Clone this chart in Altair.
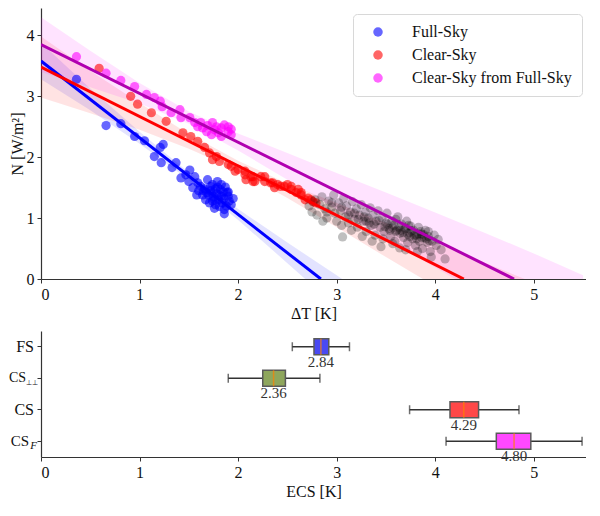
import altair as alt
import pandas as pd

FONT = "Liberation Serif"

# ---------------- top panel data ----------------
fs_dT = [0.36, 0.66, 0.81, 0.95, 1.05, 1.15, 1.21, 1.24, 1.22, 1.33, 1.37, 1.42, 1.47, 1.51, 1.50,
         1.56, 1.54, 1.59, 1.58, 1.62, 1.69, 1.66, 1.73, 1.71, 1.76, 1.79, 1.85, 1.83, 1.87, 1.90,
         1.91, 1.93, 1.86, 1.81, 1.76, 1.86, 1.77, 1.74, 1.67, 1.64, 1.79, 1.90, 1.95, 1.72, 1.78,
         1.82, 1.75, 1.80, 1.84, 1.88, 1.68, 1.70, 1.74, 1.77, 1.81, 1.83, 1.86, 1.72, 1.65, 1.60,
         1.89]
fs_N = [3.28, 2.52, 2.55, 2.34, 2.27, 2.01, 2.16, 2.21, 1.91, 1.83, 1.91, 1.66, 1.71, 1.79, 1.60,
        1.68, 1.50, 1.58, 1.38, 1.52, 1.63, 1.48, 1.41, 1.25, 1.30, 1.51, 1.43, 1.36, 1.51, 1.36,
        1.28, 1.22, 1.14, 1.19, 1.16, 1.07, 1.48, 1.55, 1.30, 1.38, 1.60, 1.43, 1.32, 1.45, 1.40,
        1.47, 1.35, 1.30, 1.25, 1.20, 1.42, 1.38, 1.28, 1.22, 1.38, 1.55, 1.32, 1.52, 1.45, 1.45,
        1.42]

cs_dT = [0.59, 0.91, 0.98, 1.12, 1.27, 1.44, 1.52, 1.59, 1.66, 1.71, 1.74, 1.78, 1.81, 1.90, 1.93,
         1.97, 2.00, 2.07, 2.08, 2.13, 2.15, 2.17, 2.23, 2.27, 2.33, 2.35, 2.37, 2.40, 2.43, 2.47,
         2.50, 2.54, 2.59, 2.61, 2.64, 2.68, 2.71, 2.74, 2.76, 2.79, 2.07, 2.15, 2.27, 2.54, 2.64]
cs_N = [3.46, 3.00, 2.87, 2.73, 2.59, 2.40, 2.34, 2.26, 2.16, 2.07, 1.96, 2.01, 1.93, 1.88, 1.85,
        1.77, 1.80, 1.71, 1.63, 1.68, 1.60, 1.60, 1.68, 1.60, 1.58, 1.58, 1.50, 1.55, 1.52, 1.52,
        1.55, 1.47, 1.42, 1.47, 1.38, 1.30, 1.33, 1.30, 1.27, 1.25, 1.77, 1.68, 1.68, 1.52, 1.42]

csf_dT = [0.36, 0.66, 0.81, 0.95, 1.07, 1.15, 1.21, 1.23, 1.32, 1.41, 1.42, 1.51, 1.56, 1.59, 1.64,
          1.69, 1.74, 1.76, 1.80, 1.83, 1.86, 1.90, 1.93, 1.83, 1.73, 1.68, 1.62, 1.90, 1.93, 1.78]
csf_N = [3.65, 3.38, 3.26, 3.16, 3.03, 2.98, 2.92, 2.83, 2.73, 2.78, 2.65, 2.65, 2.57, 2.50, 2.48,
         2.52, 2.57, 2.45, 2.40, 2.48, 2.53, 2.42, 2.37, 2.34, 2.37, 2.42, 2.57, 2.50, 2.46, 2.50]

bk_dT = [2.72, 2.75, 2.78, 2.80, 2.83, 2.85, 2.88, 2.90, 2.92, 2.95,
         2.97, 2.98, 3.00, 3.02, 3.04, 3.06, 3.07, 3.09, 3.10, 3.12,
         3.14, 3.16, 3.18, 3.20, 3.21, 3.23, 3.25, 3.27, 3.29, 3.30,
         3.32, 3.34, 3.35, 3.37, 3.39, 3.40, 3.42, 3.44, 3.45, 3.46,
         3.48, 3.50, 3.51, 3.53, 3.55, 3.56, 3.58, 3.59, 3.61, 3.62,
         3.64, 3.64, 3.66, 3.68, 3.69, 3.71, 3.72, 3.74, 3.75, 3.77,
         3.78, 3.80, 3.81, 3.83, 3.84, 3.86, 3.87, 3.89, 3.90, 3.92,
         3.93, 3.95, 3.96, 3.97, 3.99, 4.01, 4.03, 4.06, 4.10, 3.15,
         3.26, 3.36, 3.47, 3.57, 3.70, 3.82, 2.86, 3.05, 3.60, 3.73,
         3.85, 3.93, 3.30, 3.38, 3.43, 3.49, 3.52, 3.54, 3.57, 3.60,
         3.63, 3.65, 3.67, 3.70, 3.72, 3.74, 3.76, 3.79, 3.81, 3.83,
         3.86, 3.88, 3.91, 3.94, 3.12, 3.18, 3.22, 3.28, 3.33, 3.05,
         2.95, 2.90]
bk_N = [1.20, 1.10, 1.30, 1.05, 1.22, 1.35, 1.15, 1.00, 1.28, 1.18,
        1.38, 1.08, 0.95, 1.25, 1.12, 0.69, 1.32, 1.02, 1.20, 0.92,
        1.10, 1.27, 0.98, 1.15, 0.85, 1.05, 1.22, 0.95, 1.10, 0.78,
        1.00, 1.17, 0.88, 1.05, 0.72, 0.95, 1.12, 0.85, 0.53, 1.00,
        0.78, 0.92, 1.08, 0.83, 0.70, 0.95, 0.88, 0.62, 0.80, 1.02,
        0.51, 0.75, 0.90, 0.68, 0.82, 0.95, 0.60, 0.76, 0.87, 0.66,
        0.80, 0.55, 0.72, 0.85, 0.62, 0.74, 0.50, 0.68, 0.80, 0.60,
        0.70, 0.45, 0.36, 0.62, 0.72, 0.55, 0.65, 0.48, 0.33, 0.80,
        0.70, 0.62, 0.66, 0.58, 0.48, 0.45, 0.95, 0.88, 0.98, 0.88,
        0.78, 0.78, 0.95, 0.90, 0.96, 0.86, 0.90, 0.80, 0.84, 0.78,
        0.85, 0.80, 0.76, 0.83, 0.74, 0.70, 0.79, 0.72, 0.66, 0.74,
        0.68, 0.73, 0.66, 0.63, 1.05, 1.08, 0.98, 1.02, 0.92, 1.18,
        1.25, 1.10]

series_names = ["Full-Sky", "Clear-Sky", "Clear-Sky from Full-Sky"]
series_colors = ["#0000ff", "#ff0000", "#ff00ff"]
fit_colors = ["#0000ff", "#ff0000", "#b000b0"]
fit_intercept = [3.58, 3.48, 3.85]
fit_zero = [2.84, 4.29, 4.80]

band_x_fs = [0.0, 0.5, 1.0, 1.5, 2.0, 2.5, 3.0, 3.5]
band_lo_fs = [3.28, 2.77, 2.22, 1.63, 0.97, 0.26, -0.46, -1.18]
band_hi_fs = [3.88, 3.13, 2.42, 1.75, 1.15, 0.60, 0.06, -0.48]

band_x = [0.0, 0.5, 1.0, 1.5, 2.0, 2.5, 3.0, 3.5, 4.0, 4.5, 5.0, 5.5]
band_lo_cs = [2.98, 2.72, 2.45, 2.14, 1.78, 1.33, 0.85, 0.36, -0.12, -0.61, -1.10, -1.58]
band_hi_cs = [3.98, 3.42, 2.89, 2.38, 1.94, 1.57, 1.25, 0.92, 0.60, 0.27, -0.06, -0.38]
band_lo_csf = [3.40, 3.15, 2.88, 2.55, 2.11, 1.63, 1.14, 0.66, 0.19, -0.28, -0.74, -1.18]
band_hi_csf = [4.30, 3.75, 3.22, 2.75, 2.39, 2.07, 1.74, 1.42, 1.09, 0.76, 0.42, 0.06]

# ---------------- bottom panel data ----------------
ecs_keys = ["FS", "CSperp", "CS", "CSF"]
ecs_main = ["FS", "CS", "CS", "CS"]
ecs_sub = ["", "⊥⊥", "", "F"]
ecs_low = [2.55, 1.90, 3.74, 4.11]
ecs_q1 = [2.77, 2.25, 4.15, 4.62]
ecs_med = [2.84, 2.36, 4.29, 4.80]
ecs_q3 = [2.92, 2.48, 4.44, 4.97]
ecs_high = [3.13, 2.83, 4.85, 5.49]
box_colors = ["#4a4af2", "#8ea65c", "#ff4848", "#ff48ff"]

# ---------------- build ----------------
X_DOM = [0, 5.53]
W = 545

xs = alt.Scale(domain=X_DOM, nice=False, zero=False)
ys = alt.Scale(domain=[0, 4.45], nice=False, zero=False)
xaxis_top = alt.Axis(values=[0, 1, 2, 3, 4, 5], format="d", title="ΔT [K]")
yaxis_top = alt.Axis(values=[0, 1, 2, 3, 4], format="d", title="N [W/m²]", titlePadding=1)


def tx(field):
    return alt.X(field, type="quantitative", scale=xs, axis=xaxis_top)


def ty(field):
    return alt.Y(field, type="quantitative", scale=ys, axis=yaxis_top)


layers = []
for bx, lo, hi, col in [(band_x_fs, band_lo_fs, band_hi_fs, series_colors[0]),
                        (band_x, band_lo_cs, band_hi_cs, series_colors[1]),
                        (band_x, band_lo_csf, band_hi_csf, series_colors[2])]:
    d = pd.DataFrame({"x": bx, "lo": lo, "hi": hi})
    layers.append(alt.Chart(d).mark_area(color=col, opacity=0.11, clip=True)
                  .encode(x=tx("x"), y=ty("lo"), y2="hi"))

pts = pd.concat([
    pd.DataFrame({"x": fs_dT, "y": fs_N, "series": series_names[0]}),
    pd.DataFrame({"x": cs_dT, "y": cs_N, "series": series_names[1]}),
    pd.DataFrame({"x": csf_dT, "y": csf_N, "series": series_names[2]}),
])
layers.append(
    alt.Chart(pts).mark_circle(size=85, opacity=0.6, clip=True).encode(
        x=tx("x"), y=ty("y"),
        color=alt.Color("series:N", scale=alt.Scale(domain=series_names, range=series_colors),
                        legend=alt.Legend(title=None, orient="none", legendX=312, legendY=6,
                                          labelFont=FONT, labelFontSize=16, labelColor="#111",
                                          symbolType="circle", symbolSize=90, symbolOpacity=0.6,
                                          symbolStrokeWidth=0, strokeColor="#d8d8d8",
                                          fillColor="white", cornerRadius=4, padding=10,
                                          rowPadding=7, labelOffset=26, symbolOffset=7)),
    )
)
bk = pd.DataFrame({"x": bk_dT, "y": bk_N})
layers.append(alt.Chart(bk).mark_circle(size=85, opacity=0.25, color="black", clip=True)
              .encode(x=tx("x"), y=ty("y")))

for i in range(3):
    d = pd.DataFrame({"x": [0, fit_zero[i]], "y": [fit_intercept[i], 0]})
    layers.append(alt.Chart(d).mark_line(color=fit_colors[i], strokeWidth=3, clip=True)
                  .encode(x=tx("x"), y=ty("y")))

top = alt.layer(*layers).properties(width=W, height=271)

# bottom
box = pd.DataFrame({"cat": ecs_keys, "main": ecs_main, "sub": ecs_sub, "low": ecs_low,
                    "q1": ecs_q1, "med": ecs_med, "q3": ecs_q3, "high": ecs_high})
xs2 = alt.Scale(domain=X_DOM, nice=False, zero=False)
xaxis_bot = alt.Axis(values=[0, 1, 2, 3, 4, 5], format="d", title="ECS [K]")


def bx_(field):
    return alt.X(field, type="quantitative", scale=xs2, axis=xaxis_bot)


Yc = alt.Y("cat:N", sort=ecs_keys,
           scale=alt.Scale(domain=ecs_keys, paddingInner=0, paddingOuter=0),
           axis=alt.Axis(labels=False, title=None, ticks=True))

base = alt.Chart(box)
whisk = base.mark_rule(color="#333", strokeWidth=1.5).encode(x=bx_("low"), x2="high", y=Yc)
cap_lo = base.mark_tick(color="#333", size=9, thickness=1.5).encode(x=bx_("low"), y=Yc)
cap_hi = base.mark_tick(color="#333", size=9, thickness=1.5).encode(x=bx_("high"), y=Yc)
bars = base.mark_bar(size=16, stroke="#5a5a5a", strokeWidth=1.5).encode(
    x=bx_("q1"), x2="q3", y=Yc,
    color=alt.Color("cat:N", scale=alt.Scale(domain=ecs_keys, range=box_colors), legend=None))
med = base.mark_tick(color="#ff8000", size=16, thickness=1.5).encode(x=bx_("med"), y=Yc)
vals = base.mark_text(font=FONT, fontSize=15, color="#333", dy=15).encode(
    x=bx_("med"), y=Yc, text=alt.Text("med:Q", format=".2f"))


def lab(keys, xpix, field, size, dy, style=None):
    kw = dict(font=FONT, fontSize=size, color="#111", align="right", baseline="middle", dy=dy)
    if style:
        kw["fontStyle"] = style
    return base.transform_filter(alt.FieldOneOfPredicate(field="cat", oneOf=keys)).mark_text(**kw).encode(
        x=alt.value(xpix), y=Yc, text=f"{field}:N")


labels = [
    lab(["FS", "CS"], -7, "main", 16, 0),
    lab(["CSperp"], -15, "main", 14, 0),
    lab(["CSF"], -12, "main", 15, 0),
    lab(["CSperp"], -3, "sub", 7, 5),
    lab(["CSF"], -4, "sub", 11, 5, "italic"),
]

bottom = alt.layer(whisk, cap_lo, cap_hi, bars, med, vals, *labels).properties(width=W, height=126)

chart = alt.vconcat(top, bottom, spacing=10).resolve_scale(x="independent", color="independent").properties(
    padding={"left": 0, "top": 0, "right": 0, "bottom": 0}
).configure_view(stroke=None).configure_axis(
    grid=False, domainColor="#333", domainWidth=1.2, tickColor="#333", tickSize=4,
    labelFont=FONT, labelFontSize=16, labelColor="#111", titleFont=FONT, titleFontSize=16,
    titleFontWeight="normal", titleColor="#111", labelPadding=3, titlePadding=3,
)

chart.save("out.html", embed_options={"renderer": "svg", "actions": False})
